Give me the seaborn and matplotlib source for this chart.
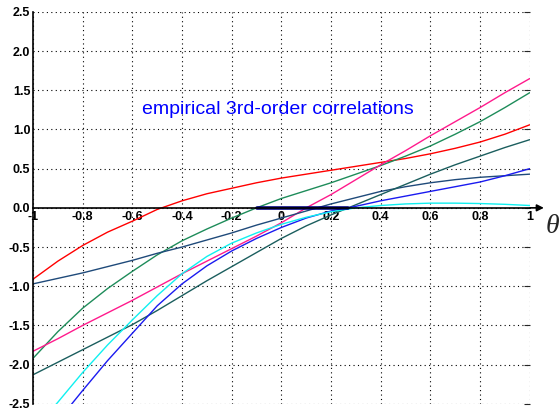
import numpy as np
import pandas as pd
import matplotlib
matplotlib.use('Agg')
import matplotlib.pyplot as plt
import seaborn as sns

# --- data ---
theta = [-1.0, -0.9, -0.8, -0.7, -0.6, -0.5, -0.4, -0.3, -0.2, -0.1, 0.0,
         0.1, 0.2, 0.3, 0.4, 0.5, 0.6, 0.7, 0.8, 0.9, 1.0]

red = [-0.91, -0.68, -0.48, -0.31, -0.17, -0.02, 0.09, 0.18, 0.25, 0.32, 0.38,
       0.43, 0.48, 0.53, 0.58, 0.63, 0.69, 0.76, 0.84, 0.94, 1.06]
green = [-1.92, -1.58, -1.28, -1.03, -0.81, -0.60, -0.42, -0.27, -0.13, 0.0, 0.12,
         0.22, 0.32, 0.43, 0.54, 0.66, 0.79, 0.94, 1.10, 1.28, 1.47]
pink = [-1.83, -1.67, -1.50, -1.34, -1.18, -1.01, -0.84, -0.68, -0.52, -0.36, -0.19,
        0.0, 0.17, 0.36, 0.55, 0.73, 0.92, 1.10, 1.28, 1.47, 1.65]
navy = [-0.97, -0.90, -0.83, -0.75, -0.67, -0.58, -0.50, -0.41, -0.32, -0.22, -0.13,
        -0.04, 0.05, 0.13, 0.21, 0.27, 0.32, 0.36, 0.39, 0.41, 0.43]
teal = [-2.13, -1.97, -1.81, -1.65, -1.49, -1.31, -1.12, -0.93, -0.75, -0.57, -0.39,
        -0.23, -0.09, 0.04, 0.17, 0.30, 0.43, 0.55, 0.66, 0.77, 0.87]
blue = [-3.05, -2.72, -2.33, -1.95, -1.60, -1.25, -0.97, -0.74, -0.55, -0.39, -0.25,
        -0.13, -0.04, 0.02, 0.09, 0.15, 0.21, 0.27, 0.33, 0.41, 0.50]
cyan = [-2.85, -2.48, -2.10, -1.75, -1.43, -1.12, -0.84, -0.62, -0.45, -0.32, -0.21,
        -0.12, -0.05, 0.0, 0.03, 0.05, 0.06, 0.06, 0.055, 0.045, 0.03]

# span of zero crossings, drawn thick on the axis
zero_span = [-0.1, 0.27]
zero_level = [0.0, 0.0]

xticks = [-1, -0.8, -0.6, -0.4, -0.2, 0, 0.2, 0.4, 0.6, 0.8, 1]
xlabels = ['-1', '-0.8', '-0.6', '-0.4', '-0.2', '0', '0.2', '0.4', '0.6', '0.8', '1']
yticks = [2.5, 2.0, 1.5, 1.0, 0.5, 0.0, -0.5, -1.0, -1.5, -2.0, -2.5]
ylabels = ['2.5', '2.0', '1.5', '1.0', '0.5', '0.0', '-0.5', '-1.0', '-1.5', '-2.0', '-2.5']

series = {'red': red, 'green': green, 'pink': pink, 'navy': navy,
          'teal': teal, 'blue': blue, 'cyan': cyan}
palette = {'red': '#ff0000', 'green': '#1e8c5a', 'pink': '#ff1a8c', 'navy': '#1f4a7a',
           'teal': '#1b5e5e', 'blue': '#1a1af0', 'cyan': '#10f0f0'}

df = pd.concat([pd.DataFrame({'theta': theta, 'value': v, 'series': k})
                for k, v in series.items()], ignore_index=True)

sns.set_style('white')
plt.rcParams['font.family'] = ['Liberation Sans', 'DejaVu Sans']

fig = plt.figure(figsize=(5.6, 4.12), dpi=100)
ax = fig.add_axes([0.059, 0.02, 0.887, 0.951])

sns.lineplot(data=df, x='theta', y='value', hue='series', palette=palette,
             linewidth=1.0, legend=False, ax=ax, sort=True)
sns.lineplot(x=zero_span, y=zero_level, color='#000080', linewidth=2.6, ax=ax)

ax.set_xlim(-1, 1)
ax.set_ylim(-2.5, 2.5)
ax.set_xticks(xticks)
ax.set_xticklabels(xlabels)
ax.set_yticks(yticks)
ax.set_yticklabels(ylabels)
ax.set_xlabel('')
ax.set_ylabel('')

ax.grid(True, linestyle=(0, (1, 3)), color='black', linewidth=0.8)

ax.spines['bottom'].set_position(('data', 0))
ax.spines['bottom'].set_linewidth(1.2)
ax.spines['left'].set_linewidth(1.2)
ax.spines['top'].set_visible(False)
ax.spines['right'].set_visible(False)
for s in ('bottom', 'left'):
    ax.spines[s].set_color('black')

ax.tick_params(axis='x', length=0, pad=2, top=True, labeltop=False)
ax.tick_params(axis='y', direction='in', length=4, right=True, pad=2)

for lbl in ax.get_xticklabels() + ax.get_yticklabels():
    lbl.set_fontweight('bold')
    lbl.set_fontsize(9)
    lbl.set_color('black')

# arrow at the end of the theta axis
ax.annotate('', xy=(1.068, 0), xytext=(0.99, 0),
            arrowprops=dict(arrowstyle='-|>', color='black', lw=1.2, mutation_scale=10),
            annotation_clip=False)
ax.text(1.09, -0.24, 'θ', fontsize=20, fontstyle='italic', family='Liberation Serif',
        ha='center', va='center', clip_on=False)

ax.text(-0.016, 1.26, 'empirical 3rd-order correlations', color='#0000ff',
        fontsize=14, ha='center', va='center')

fig.savefig('out.png', dpi=100)
